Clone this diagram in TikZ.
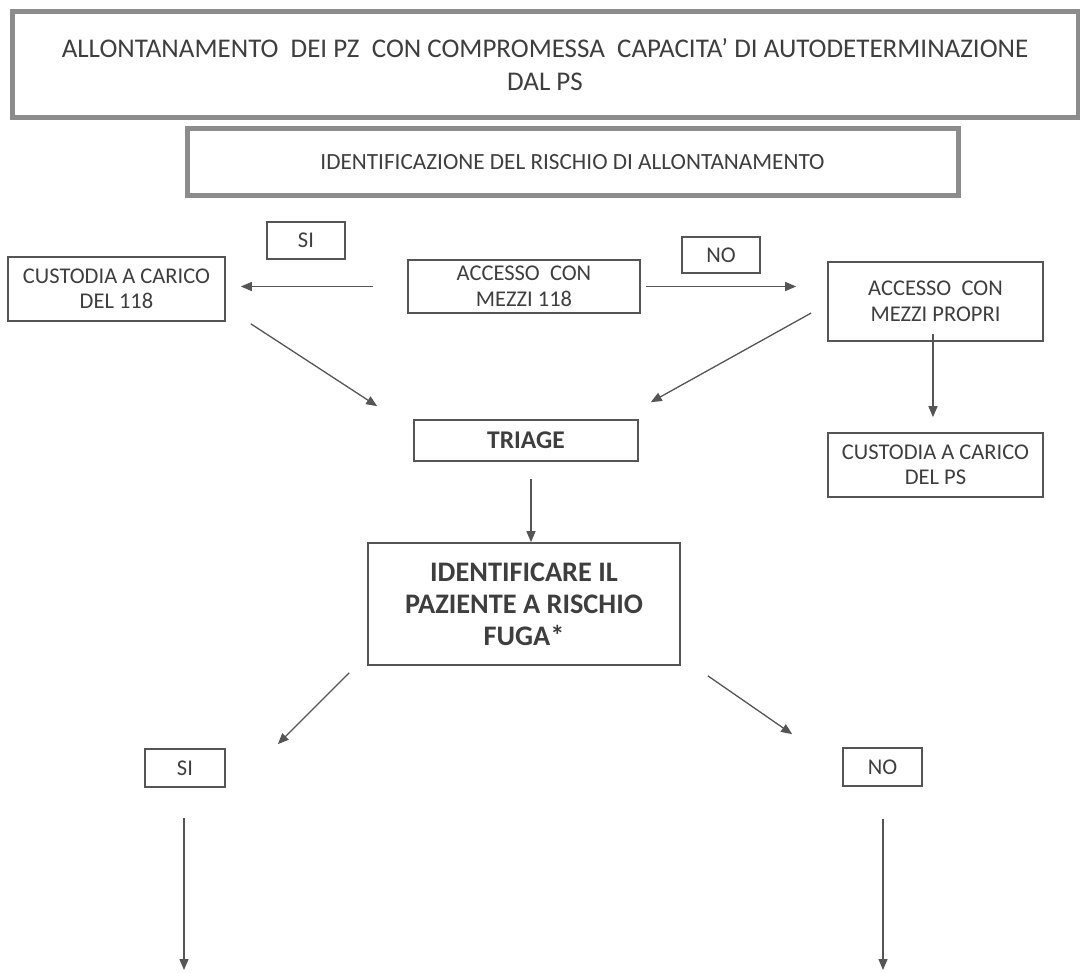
\documentclass[tikz,border=0pt]{standalone}
\usepackage{fontspec}
\setmainfont{Carlito}
\usetikzlibrary{arrows.meta}
\definecolor{inkgray}{HTML}{3E3E3E}
\definecolor{linegray}{HTML}{555555}
\definecolor{framegray}{HTML}{8C8C8C}
\tikzset{
  box/.style={draw=linegray, line width=1.6pt, text=inkgray, align=center, inner sep=0pt,
    font=\fontsize{22.5}{25.5}\selectfont},
  framebox/.style={box, draw=framegray, line width=5pt},
  arr/.style={draw=linegray, line width=1.3pt, -{Triangle[length=11pt,width=9pt]}},
}
\begin{document}
\begin{tikzpicture}[x=1pt,y=-1pt]
  \useasboundingbox (0,0) rectangle (1080,973);
  % headers
  \node[framebox, minimum width=1066pt, minimum height=106pt, font=\fontsize{27}{33}\selectfont]
    (title) at (545,65) {ALLONTANAMENTO\ \ DEI PZ\ \ CON COMPROMESSA\ \ CAPACITA’ DI AUTODETERMINAZIONE\\DAL PS};
  \node[framebox, minimum width=771pt, minimum height=67pt, font=\fontsize{23.2}{27}\selectfont]
    (risk) at (572.5,162.5) {IDENTIFICAZIONE DEL RISCHIO DI ALLONTANAMENTO};
  % access
  \node[box, minimum width=78pt, minimum height=37pt] (si1) at (306,240.5) {SI};
  \node[box, minimum width=78pt, minimum height=36pt] (no1) at (721,255) {NO};
  \node[box, minimum width=217pt, minimum height=64pt] (cust118) at (116.5,289) {CUSTODIA A CARICO\\DEL 118};
  \node[box, minimum width=232pt, minimum height=53pt] (acc118) at (524,286.5) {ACCESSO\ \ CON\\MEZZI 118};
  \node[box, minimum width=215pt, minimum height=79pt] (accprop) at (935.5,301.5) {ACCESSO\ \ CON\\MEZZI PROPRI};
  \node[box, minimum width=215pt, minimum height=64pt] (custps) at (935.5,465) {CUSTODIA A CARICO\\DEL PS};
  % triage
  \node[box, minimum width=224pt, minimum height=41pt, font=\fontsize{25.5}{30}\bfseries] (triage) at (526,440.5) {TRIAGE};
  \node[box, minimum width=312pt, minimum height=122pt, font=\fontsize{28.3}{32}\bfseries] (ident) at (524,604)
    {IDENTIFICARE IL\\PAZIENTE A RISCHIO\\FUGA*};
  \node[box, minimum width=80pt, minimum height=38pt] (si2) at (185,768) {SI};
  \node[box, minimum width=79pt, minimum height=38pt] (no2) at (882.5,767) {NO};
  \coordinate (siout) at (184,970);
  \coordinate (noout) at (883,970);
  % connectors
  \draw[arr, shorten <=34pt, shorten >=15pt] (acc118.west) -- (acc118.west -| cust118.east);
  \draw[arr, shorten <=5pt, shorten >=31pt] (acc118.east) -- (acc118.east -| accprop.west);
  \draw[arr] ([xshift=25pt,yshift=-2pt]cust118.south east) -- ([xshift=-36pt,yshift=13pt]triage.north west);
  \draw[arr] ([xshift=-16pt,yshift=-11.5pt]accprop.west) -- ([xshift=12pt,yshift=17pt]triage.north east);
  \draw[arr, shorten <=-8pt, shorten >=15pt] ([xshift=-2.5pt]accprop.south) -- ([xshift=-2.5pt]custps.north);
  \draw[arr, shorten <=17pt] ([xshift=5pt]triage.south) -- ([xshift=5pt]triage.south |- ident.north);
  \draw[arr] ([xshift=-18pt,yshift=-7pt]ident.south west) -- ([xshift=52pt,yshift=4pt]si2.north east);
  \draw[arr] ([xshift=27pt,yshift=-10pt]ident.south east) -- ([xshift=-50pt,yshift=13pt]no2.north west);
  \draw[arr, shorten <=30pt] (si2.south -| siout) -- (siout);
  \draw[arr, shorten <=32pt] (no2.south -| noout) -- (noout);
\end{tikzpicture}
\end{document}
